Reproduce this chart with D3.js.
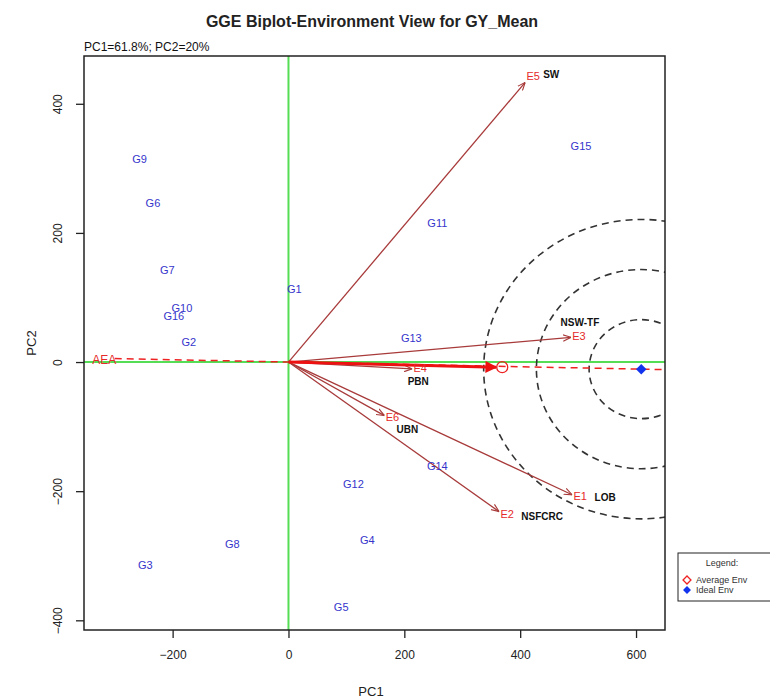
<!DOCTYPE html>
<html>
<head>
<meta charset="utf-8">
<script src="https://cdn.jsdelivr.net/npm/d3@7"></script>
<style>
  body { margin: 0; background: #fff; }
  text { font-family: "Liberation Sans", Arial, sans-serif; }
</style>
</head>
<body>
<script>
// CHART DATA
const genotypes = ["G1","G2","G3","G4","G5","G6","G7","G8","G9","G10","G11","G12","G13","G14","G15","G16"];
const genoPC1 = [10, -172, -247, 136, 91, -234, -209, -97, -257, -184, 257, 112, 212, 257, 505, -198];
const genoPC2 = [112, 29, -316, -278, -381, 245, 141, -284, 313, 82, 214, -191, 36, -163, 333, 70];

const envCodes = ["E1","E2","E3","E4","E5","E6"];
const envNames = ["LOB","NSFCRC","NSW-TF","PBN","SW","UBN"];
const envPC1 = [500, 374, 498, 224, 419, 176];
const envPC2 = [-209, -237, 39, -11, 442, -87];

const avgEnv = [369, -8];
const idealEnv = [609, -11];
const ringRadii = [90, 181, 272];

const xTicks = [-200, 0, 200, 400, 600];
const yTicks = [-400, -200, 0, 200, 400];

const WIDTH = 770;
const HEIGHT = 699;
const plot = { left: 84, right: 665, top: 56, bottom: 630 };

const svg = d3.select("body").append("svg").attr("width", WIDTH).attr("height", HEIGHT);

const x = d3.scaleLinear().domain([-353, 650]).range([plot.left, plot.right]);
const y = d3.scaleLinear().domain([-415, 474]).range([plot.bottom, plot.top]);

// clip
const defs = svg.append("defs");
defs.append("clipPath").attr("id", "clip")
  .append("rect")
  .attr("x", plot.left).attr("y", plot.top)
  .attr("width", plot.right - plot.left).attr("height", plot.bottom - plot.top);

defs.append("marker").attr("id", "arrEnv")
  .attr("viewBox", "0 0 10 10").attr("refX", 10).attr("refY", 5)
  .attr("markerWidth", 8).attr("markerHeight", 8).attr("orient", "auto")
  .attr("markerUnits", "userSpaceOnUse")
  .append("path").attr("d", "M0,1 L10,5 L0,9").attr("fill", "none")
  .attr("stroke", "#a83a3a").attr("stroke-width", 1.4);
defs.append("marker").attr("id", "arrAvg")
  .attr("viewBox", "0 0 10 10").attr("refX", 9).attr("refY", 5)
  .attr("markerWidth", 14).attr("markerHeight", 12).attr("orient", "auto")
  .attr("markerUnits", "userSpaceOnUse")
  .append("path").attr("d", "M0,0 L10,5 L0,10 Z").attr("fill", "#ee1111");

const g = svg.append("g").attr("clip-path", "url(#clip)");

// green axes through origin
g.append("line").attr("x1", x(0)).attr("x2", x(0)).attr("y1", plot.top).attr("y2", plot.bottom)
  .attr("stroke", "#55dd55").attr("stroke-width", 2);
g.append("line").attr("x1", plot.left).attr("x2", plot.right).attr("y1", y(0)).attr("y2", y(0))
  .attr("stroke", "#55dd55").attr("stroke-width", 2);

// concentric rings around ideal environment
g.selectAll("ellipse.ring")
  .data(ringRadii)
  .enter()
  .append("ellipse")
  .attr("class", "ring")
  .attr("cx", x(idealEnv[0]))
  .attr("cy", y(idealEnv[1]))
  .attr("rx", d => x(d) - x(0))
  .attr("ry", d => (x(d) - x(0)) * 0.95)
  .attr("fill", "none")
  .attr("stroke", "#333")
  .attr("stroke-width", 1.6)
  .attr("stroke-dasharray", "7,5");

// AEA dashed line
const slope = idealEnv[1] / idealEnv[0];
g.append("line")
  .attr("x1", x(-300)).attr("y1", y(-300 * slope))
  .attr("x2", x(650)).attr("y2", y(650 * slope))
  .attr("stroke", "#ee2222").attr("stroke-width", 1.5)
  .attr("stroke-dasharray", "7,5");

// environment vectors
const envData = envCodes.map((c, i) => ({ code: c, name: envNames[i], pc1: envPC1[i], pc2: envPC2[i] }));
g.selectAll("line.env")
  .data(envData)
  .enter()
  .append("line")
  .attr("class", "env")
  .attr("x1", x(0)).attr("y1", y(0))
  .attr("x2", d => x(d.pc1) - 6).attr("y2", d => y(d.pc2) - 6 * (d.pc2 / d.pc1) * (x(1) - x(0)) / (y(0) - y(1)) * -1)
  .attr("stroke", "#a83a3a")
  .attr("stroke-width", 1.3)
  .attr("marker-end", "url(#arrEnv)");

// average environment arrow
g.append("line")
  .attr("x1", x(0)).attr("y1", y(0))
  .attr("x2", x(avgEnv[0]) - 6).attr("y2", y(avgEnv[1]))
  .attr("stroke", "#ee1111").attr("stroke-width", 3)
  .attr("marker-end", "url(#arrAvg)");
g.append("circle")
  .attr("cx", x(avgEnv[0])).attr("cy", y(avgEnv[1])).attr("r", 5.5)
  .attr("fill", "none").attr("stroke", "#ee2222").attr("stroke-width", 1.3);

// ideal environment diamond
g.append("path")
  .attr("d", d3.symbol().type(d3.symbolDiamond2).size(70)())
  .attr("transform", `translate(${x(idealEnv[0])},${y(idealEnv[1])})`)
  .attr("fill", "#1133ee");

// AEA label
g.append("text").attr("x", x(-318)).attr("y", y(0) - 1)
  .attr("text-anchor", "middle").attr("dominant-baseline", "middle")
  .attr("font-size", 12).attr("fill", "#e52a2a").text("AEA");

// genotype labels
g.selectAll("text.geno")
  .data(genotypes)
  .enter()
  .append("text")
  .attr("class", "geno")
  .attr("x", (d, i) => x(genoPC1[i]))
  .attr("y", (d, i) => y(genoPC2[i]))
  .attr("text-anchor", "middle")
  .attr("dominant-baseline", "middle")
  .attr("font-size", 11)
  .attr("fill", "#3535cc")
  .text(d => d);

// environment code labels
g.selectAll("text.envcode")
  .data(envData)
  .enter()
  .append("text")
  .attr("class", "envcode")
  .attr("x", d => x(d.pc1) + 2)
  .attr("y", d => y(d.pc2))
  .attr("text-anchor", "middle")
  .attr("dominant-baseline", "middle")
  .attr("font-size", 11)
  .attr("fill", "#e52a2a")
  .text(d => d.code);

// environment name labels (offsets in px from the vector tip)
const nameOffset = { LOB: [27, 1], NSFCRC: [37, 2], "NSW-TF": [3, -14], PBN: [0, 13], SW: [20, -1], UBN: [17, 12] };
g.selectAll("text.envname")
  .data(envData)
  .enter()
  .append("text")
  .attr("class", "envname")
  .attr("x", d => x(d.pc1) + nameOffset[d.name][0])
  .attr("y", d => y(d.pc2) + nameOffset[d.name][1])
  .attr("text-anchor", "middle")
  .attr("dominant-baseline", "middle")
  .attr("font-size", 10)
  .attr("font-weight", "bold")
  .attr("font-family", "'Open Sans', sans-serif")
  .attr("fill", "#111")
  .text(d => d.name);

// box
svg.append("rect")
  .attr("x", plot.left).attr("y", plot.top)
  .attr("width", plot.right - plot.left).attr("height", plot.bottom - plot.top)
  .attr("fill", "none").attr("stroke", "#222").attr("stroke-width", 1.5);

// axes
const xAxis = svg.append("g")
  .attr("transform", `translate(0,${plot.bottom})`)
  .call(d3.axisBottom(x).tickValues(xTicks).tickSize(8).tickPadding(12).tickFormat(d3.format("d")));
xAxis.select(".domain").remove();
xAxis.selectAll("text").attr("font-size", 12).attr("fill", "#222")
  .style("font-family", "'Liberation Sans', Arial, sans-serif");
xAxis.selectAll("line").attr("stroke", "#222").attr("stroke-width", 1.3);

const yAxis = svg.append("g")
  .attr("transform", `translate(${plot.left},0)`)
  .call(d3.axisLeft(y).tickValues(yTicks).tickSize(8).tickFormat(d3.format("d")));
yAxis.select(".domain").remove();
yAxis.selectAll("text")
  .attr("transform", "rotate(-90)")
  .attr("x", 0).attr("y", -22).attr("dy", 0)
  .attr("text-anchor", "middle")
  .attr("font-size", 12).attr("fill", "#222")
  .style("font-family", "'Liberation Sans', Arial, sans-serif");
yAxis.selectAll("line").attr("stroke", "#222").attr("stroke-width", 1.3);

// titles
svg.append("text").attr("x", 372).attr("y", 27).attr("text-anchor", "middle")
  .attr("font-size", 16).attr("font-weight", "bold").attr("fill", "#222")
  .text("GGE Biplot-Environment View for GY_Mean");
svg.append("text").attr("x", plot.left).attr("y", 51)
  .attr("font-size", 12).attr("fill", "#111")
  .text("PC1=61.8%; PC2=20%");
svg.append("text").attr("x", 371).attr("y", 696).attr("text-anchor", "middle")
  .attr("font-size", 13).attr("fill", "#222").text("PC1");
svg.append("text").attr("transform", "translate(36,343) rotate(-90)").attr("text-anchor", "middle")
  .attr("font-size", 13).attr("fill", "#222").text("PC2");

// legend
const lg = svg.append("g").attr("transform", "translate(678,553)");
lg.append("rect").attr("width", 110).attr("height", 48)
  .attr("fill", "#fff").attr("stroke", "#222").attr("stroke-width", 1);
lg.append("text").attr("x", 44).attr("y", 13).attr("text-anchor", "middle")
  .attr("font-size", 9).attr("fill", "#333").text("Legend:");
lg.append("path").attr("d", d3.symbol().type(d3.symbolDiamond2).size(40)())
  .attr("transform", "translate(9,27)").attr("fill", "none").attr("stroke", "#ee2222").attr("stroke-width", 1.3);
lg.append("path").attr("d", d3.symbol().type(d3.symbolDiamond2).size(40)())
  .attr("transform", "translate(9,37)").attr("fill", "#1133ee");
lg.append("text").attr("x", 18).attr("y", 30).attr("font-size", 9).attr("fill", "#333").text("Average Env");
lg.append("text").attr("x", 18).attr("y", 40).attr("font-size", 9).attr("fill", "#333").text("Ideal Env");
</script>
</body>
</html>
